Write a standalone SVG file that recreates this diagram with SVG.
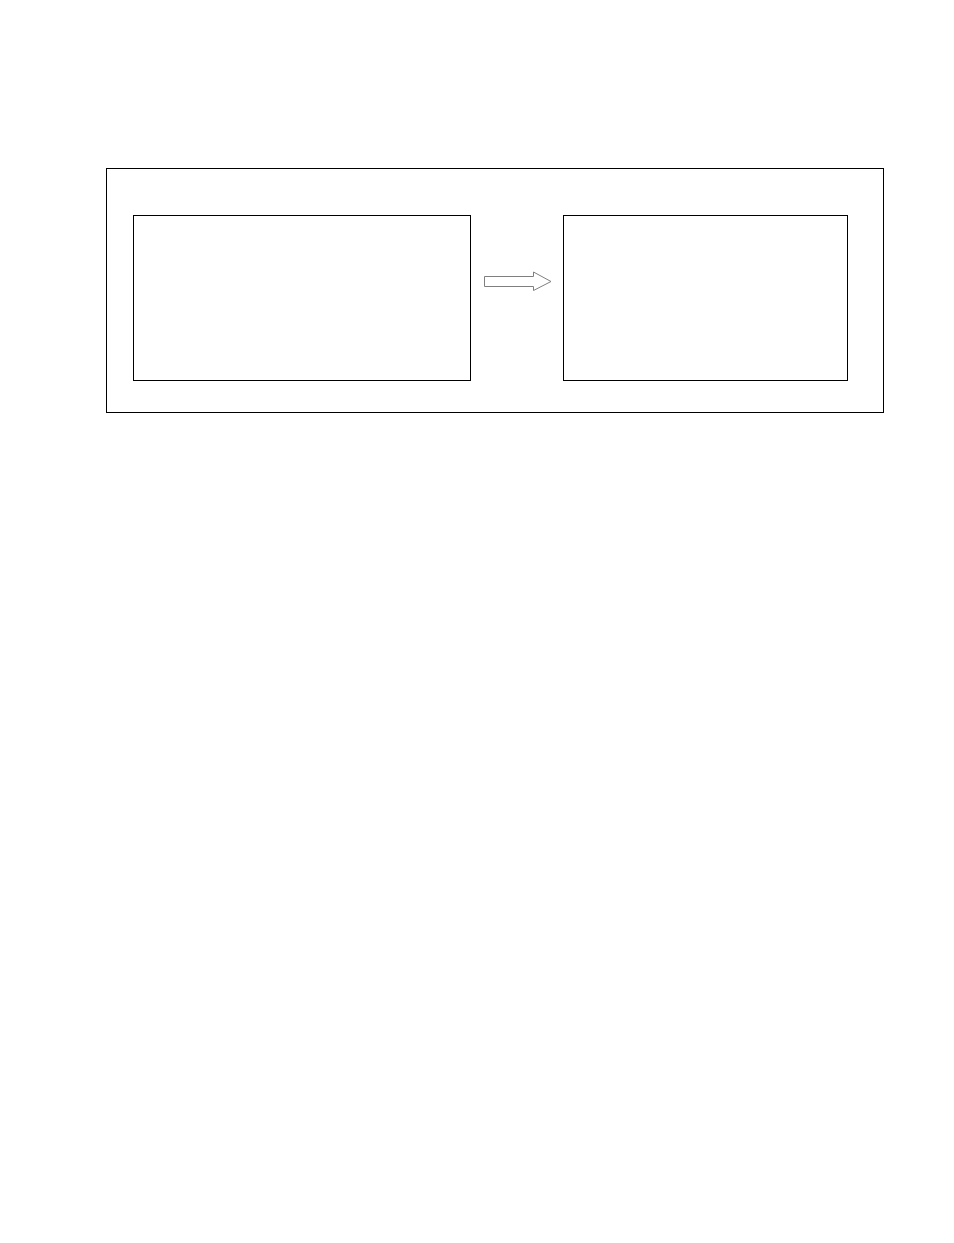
<svg xmlns="http://www.w3.org/2000/svg" width="954" height="1243" viewBox="0 0 954 1243">
<style>
.box{fill:none;stroke:#000;stroke-width:1}
.arrow{fill:#fff;stroke:#7f7f7f;stroke-width:1}
</style>
<rect width="954" height="1243" fill="#fff"/>
<g id="outer"><rect class="box" x="106.5" y="168.5" width="777" height="244"/></g>
<g id="left-box"><rect class="box" x="133.5" y="215.5" width="337" height="165"/></g>
<g id="right-box"><rect class="box" x="563.5" y="215.5" width="284" height="165"/></g>
<g id="connectors">
<polygon class="arrow" points="484.5,276.5 533.5,276.5 533.5,272 551,281.5 533.5,290.5 533.5,286.5 484.5,286.5"/>
</g>
</svg>
